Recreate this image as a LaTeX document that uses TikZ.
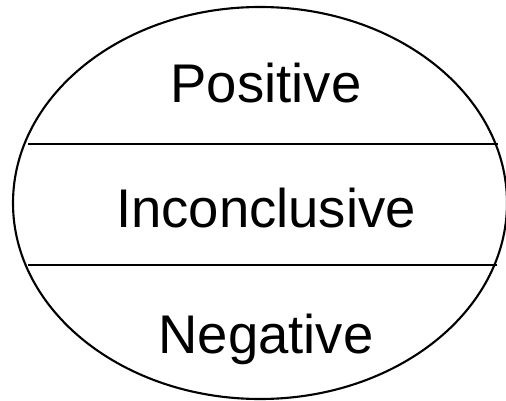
\documentclass[tikz,border=0pt]{standalone}
\usepackage{fontspec}
\setmainfont{Liberation Sans}
\usetikzlibrary{positioning}
\tikzset{
  outline/.style={draw=black,line width=1.2pt},
  divider/.style={draw=black,line width=1.2pt},
  zone/.style={font=\fontsize{31}{36}\selectfont,anchor=base,inner sep=0pt},
}
\begin{document}
\begin{tikzpicture}[x=0.02cm,y=-0.02cm]
  \useasboundingbox (0,0) rectangle (506,401);
  % outer ellipse
  \draw[outline] (260,203) ellipse [x radius=247,y radius=196];
  \coordinate (l1) at (28,144); \coordinate (r1) at (498,144);
  \coordinate (l2) at (28,265); \coordinate (r2) at (497,265);
  \draw[divider] (l1) -- (r1);
  \draw[divider] (l2) -- (r2);
  \node[zone] (pos) at (266,103) {Positive};
  \node[zone] (inc) at (266,228) {Inconclusive};
  \node[zone] (neg) at (266,353) {Negative};
\end{tikzpicture}
\end{document}
